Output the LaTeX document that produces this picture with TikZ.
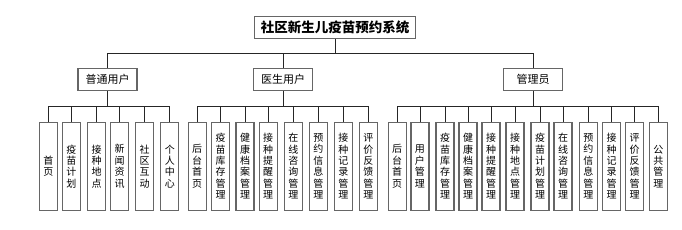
\documentclass[tikz,border=0pt]{standalone}
\usepackage{fontspec}
\newfontfamily\cjk{Noto Sans CJK SC}
\usetikzlibrary{positioning,calc}

\begin{document}
\begin{tikzpicture}[
    x=1pt, y=-1pt,
    every node/.style={font=\cjk},
    box/.style={draw=black!60, line width=1.2pt, fill=white, inner sep=0pt},
    rootbox/.style={box, minimum width=161pt, minimum height=22pt, font=\cjk\bfseries\fontsize{13.5}{15}\selectfont},
    rolebox/.style={box, minimum width=59pt, minimum height=22.5pt, font=\cjk\fontsize{11}{13}\selectfont},
    leafbox/.style={box, anchor=north, minimum width=18pt, minimum height=88pt, align=center, font=\cjk\fontsize{10}{11.4}\selectfont},
    link/.style={draw=black!85, line width=0.8pt}
]
\useasboundingbox (0,0) rectangle (682,230);

% Root
\node[rootbox] (root) at (335,27.5) {社区新生儿疫苗预约系统};

% Roles
\node[rolebox] (puser) at (107.5,79.5) {普通用户};
\node[rolebox] (duser) at (283,79.5) {医生用户};
\node[rolebox] (admin) at (533,79.5) {管理员};

\foreach \r in {puser,duser,admin}
    \draw[link] (root.south) -- ++(0,14.5) -| (\r.north);

% Common user modules
\foreach \x/\t [count=\i] in {48.3/首\\页, 71.3/疫\\苗\\计\\划, 96.5/接\\种\\地\\点,
    119.7/新\\闻\\资\\讯, 144.7/社\\区\\互\\动, 169.8/个\\人\\中\\心} {
    \node[leafbox] (pu\i) at (\x,121.7) {\t};
    \draw[link] (puser.south) -- ++(0,15.5) -| (pu\i.north);
}

% Doctor modules
\foreach \x/\t [count=\i] in {197.2/后\\台\\首\\页, 220.5/疫\\苗\\库\\存\\管\\理,
    245/健\\康\\档\\案\\管\\理, 268.2/接\\种\\提\\醒\\管\\理, 293.3/在\\线\\咨\\询\\管\\理,
    318.3/预\\约\\信\\息\\管\\理, 343.3/接\\种\\记\\录\\管\\理, 368.3/评\\价\\反\\馈\\管\\理} {
    \node[leafbox] (du\i) at (\x,121.7) {\t};
    \draw[link] (duser.south) -- ++(0,15.5) -| (du\i.north);
}

% Admin modules
\foreach \x/\t [count=\i] in {397.2/后\\台\\首\\页, 419.9/用\\户\\管\\理,
    445/疫\\苗\\库\\存\\管\\理, 468/健\\康\\档\\案\\管\\理, 491/接\\种\\提\\醒\\管\\理,
    515/接\\种\\地\\点\\管\\理, 540/疫\\苗\\计\\划\\管\\理, 563/在\\线\\咨\\询\\管\\理,
    588.3/预\\约\\信\\息\\管\\理, 611.5/接\\种\\记\\录\\管\\理, 634.7/评\\价\\反\\馈\\管\\理,
    658.3/公\\共\\管\\理} {
    \node[leafbox] (ad\i) at (\x,121.7) {\t};
    \draw[link] (admin.south) -- ++(0,15.5) -| (ad\i.north);
}

\end{tikzpicture}
\end{document}
